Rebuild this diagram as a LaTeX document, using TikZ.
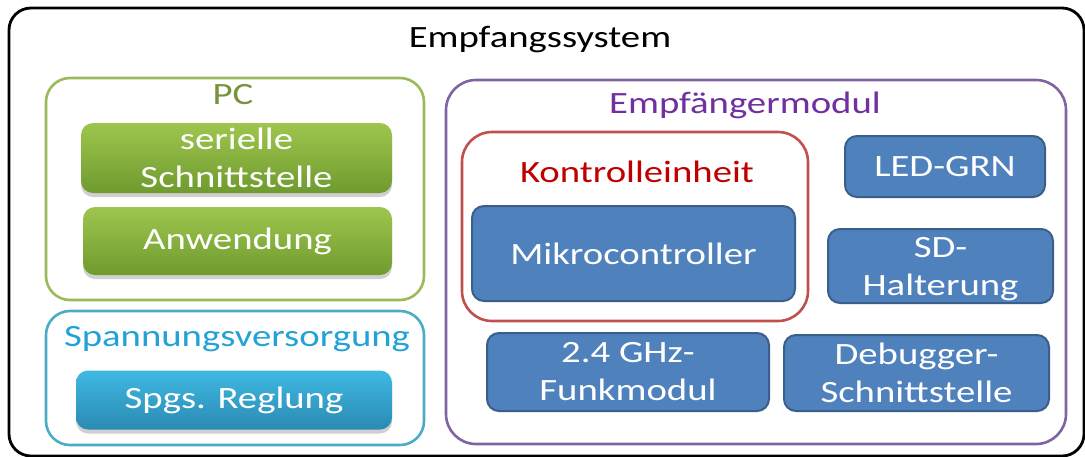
\documentclass[tikz,border=0pt]{standalone}
\usepackage{fontspec}
\setmainfont[FakeStretch=1.25]{Carlito}
\usetikzlibrary{shadows}

\definecolor{pcline}{HTML}{9BBB59}
\definecolor{pctext}{HTML}{77933C}
\definecolor{greentop}{HTML}{9EC64E}
\definecolor{greenbot}{HTML}{6F9A2E}
\definecolor{cyanline}{HTML}{4BACC6}
\definecolor{cyantext}{HTML}{22A2D6}
\definecolor{cyantop}{HTML}{3FB9E2}
\definecolor{cyanbot}{HTML}{2A8AB3}
\definecolor{modline}{HTML}{8064A2}
\definecolor{modtext}{HTML}{7030A0}
\definecolor{ctrlline}{HTML}{C0504D}
\definecolor{ctrltext}{HTML}{C00000}
\definecolor{unitfill}{HTML}{4F81BD}
\definecolor{unitline}{HTML}{3A5F8B}

\tikzset{
  base/.style={font=\fontsize{31}{38}\selectfont, inner sep=0pt, outer sep=0pt},
  frame/.style={base, draw, line width=2.6pt, rounded corners=24pt, rectangle},
  title/.style={base, anchor=base},
  shadebox/.style={base, rectangle, rounded corners=12pt, text=white, align=center,
    drop shadow={shadow xshift=0pt, shadow yshift=-4pt, opacity=0.3, fill=black!60}},
  greenbox/.style={shadebox, top color=greentop, bottom color=greenbot},
  cyanbox/.style={shadebox, top color=cyantop, bottom color=cyanbot},
  unitbox/.style={base, rectangle, rounded corners=12pt, draw=unitline, line width=2pt,
    fill=unitfill, text=white, align=center},
}

\begin{document}
\begin{tikzpicture}[x=1pt, y=-1pt]
\useasboundingbox (0,0) rectangle (1085,456);
\fill[white] (0,0) rectangle (1085,456);

% whole receiving system
\node[frame, draw=black, line width=2.8pt, rounded corners=22pt,
      minimum width=1075, minimum height=448] (sys) at (546.5,232) {};
\node[title] (systitle) at (540,47) {Empfangssystem};

% PC
\node[frame, draw=pcline, minimum width=378, minimum height=222] (pc) at (235,189) {};
\node[title, text=pctext] (pctitle) at (233,104) {PC};
\node[greenbox, minimum width=311, minimum height=70] (ser) at (236.5,158) {serielle\\Schnittstelle};
\node[greenbox, minimum width=309, minimum height=68] (app) at (237.5,241) {Anwendung};

% power supply
\node[frame, draw=cyanline, minimum width=378, minimum height=134] (pwr) at (235,378) {};
\node[title, text=cyantext] (pwrtitle) at (237,346) {Spannungsversorgung};
\node[cyanbox, minimum width=316, minimum height=59] (reg) at (234,400) {Spgs. Reglung};

% receiver module
\node[frame, draw=modline, rounded corners=30pt, minimum width=620, minimum height=364] (mod) at (756,262) {};
\node[title, text=modtext] (modtitle) at (745,113) {Empfängermodul};

% control unit
\node[frame, draw=ctrlline, rounded corners=30pt, minimum width=346, minimum height=189] (ctrl) at (635,226.5) {};
\node[title, text=ctrltext] (ctrltitle) at (637,182) {Kontrolleinheit};
\node[unitbox, minimum width=323, minimum height=95] (mcu) at (633.5,253.5) {Mikrocontroller};

% peripherals
\node[unitbox, minimum width=200, minimum height=61] (led) at (945,166.5) {LED-GRN};
\node[unitbox, minimum width=225, minimum height=74, text depth=0pt] (sd) at (940.5,266) {SD-\\Halterung};
\node[unitbox, minimum width=282, minimum height=78] (rf) at (628,372) {2.4 GHz-\\Funkmodul};
\node[unitbox, minimum width=265, minimum height=76] (dbg) at (916.5,373) {Debugger-\\Schnittstelle};
\end{tikzpicture}
\end{document}
